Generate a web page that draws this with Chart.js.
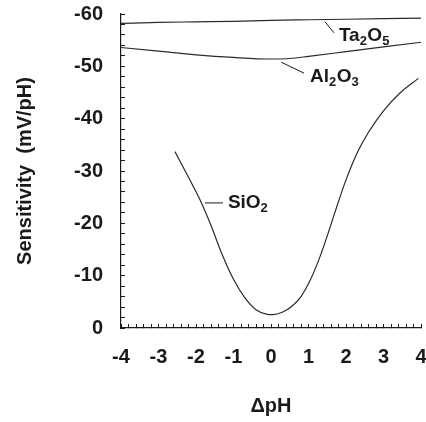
<!DOCTYPE html>
<html>
<head>
<meta charset="utf-8">
<script src="https://cdn.jsdelivr.net/npm/chart.js@4.4.1/dist/chart.umd.min.js"></script>
<style>
  html, body { margin: 0; padding: 0; background: #ffffff; }
  #wrap { width: 426px; height: 422px; position: relative; }
</style>
</head>
<body>
<div id="wrap"><canvas id="c" width="426" height="422"></canvas></div>
<script>
// ---- data ----
const taX = [-4, -3, -2, -1, 0, 1, 2, 3, 4];
const taY = [-58.2, -58.4, -58.5, -58.6, -58.8, -58.9, -59.0, -59.1, -59.2];

const alX = [-4, -3, -2, -1, 0, 0.5, 1, 2, 3, 4];
const alY = [-53.6, -52.9, -52.2, -51.7, -51.4, -51.5, -51.9, -52.8, -53.7, -54.6];

const siX = [-2.56, -2.2, -1.9, -1.6, -1.3, -1.0, -0.7, -0.4, -0.1, 0.05, 0.3, 0.55, 0.8, 1.05, 1.3, 1.5, 1.7, 2.0, 2.3, 2.6, 3.0, 3.44, 3.93];
const siY = [-33.7, -28.8, -24.6, -19.6, -14.0, -9.3, -5.8, -3.5, -2.6, -2.55, -3.0, -4.1, -6.0, -9.2, -13.5, -17.6, -22.0, -28.3, -33.5, -37.4, -41.5, -44.9, -47.7];

// labels with leader lines (data coordinates)
const labelText = ["Ta2O5", "Al2O3", "SiO2"];
const labelX = [1.81, 1.04, -1.15];
const labelY = [-54.8, -47.0, -22.9];
const leaderX1 = [1.44, 0.27, -1.76];
const leaderY1 = [-58.5, -50.8, -23.9];
const leaderX2 = [1.68, 0.88, -1.28];
const leaderY2 = [-56.4, -48.7, -23.9];

const xTickMajor = [-4, -3, -2, -1, 0, 1, 2, 3, 4];
const yTickMajor = [-60, -50, -40, -30, -20, -10, 0];

const FONT = '"Liberation Sans", Arial, Helvetica, sans-serif';
const INK = '#1a1a1a';

function pts(xs, ys) { return xs.map((x, i) => ({ x: x, y: ys[i] })); }
function isMajor(v, list) { return list.some(m => Math.abs(m - v) < 1e-6); }

const labelPlugin = {
  id: 'chemLabels',
  afterDatasetsDraw(chart) {
    const { ctx, scales: { x, y } } = chart;
    ctx.save();
    ctx.strokeStyle = INK;
    ctx.lineWidth = 1;
    ctx.fillStyle = INK;
    ctx.textBaseline = 'alphabetic';
    ctx.textAlign = 'left';
    labelText.forEach((txt, i) => {
      ctx.beginPath();
      ctx.moveTo(x.getPixelForValue(leaderX1[i]), y.getPixelForValue(leaderY1[i]));
      ctx.lineTo(x.getPixelForValue(leaderX2[i]), y.getPixelForValue(leaderY2[i]));
      ctx.stroke();
      let px = x.getPixelForValue(labelX[i]);
      const py = y.getPixelForValue(labelY[i]);
      const parts = txt.match(/[A-Za-z]+|[0-9]+/g);
      parts.forEach(p => {
        const sub = /^[0-9]+$/.test(p);
        ctx.font = sub ? 'bold 13px ' + FONT : 'bold 19px ' + FONT;
        ctx.fillText(p, px, sub ? py + 4 : py);
        px += ctx.measureText(p).width + (sub ? 0.5 : 0);
      });
    });
    ctx.restore();
  }
};

const lineStyle = {
  borderColor: '#2a2a2a',
  borderWidth: 1.2,
  pointRadius: 0,
  fill: false,
  cubicInterpolationMode: 'monotone'
};

new Chart(document.getElementById('c'), {
  type: 'line',
  data: {
    datasets: [
      Object.assign({ label: 'Ta2O5', data: pts(taX, taY) }, lineStyle),
      Object.assign({ label: 'Al2O3', data: pts(alX, alY) }, lineStyle),
      Object.assign({ label: 'SiO2', data: pts(siX, siY) }, lineStyle)
    ]
  },
  options: {
    responsive: false,
    animation: false,
    devicePixelRatio: 1,
    layout: { padding: { left: 4, right: 0, top: 14, bottom: 0 } },
    plugins: { legend: { display: false }, tooltip: { enabled: false } },
    scales: {
      x: {
        type: 'linear',
        min: -4, max: 4,
        afterFit(s) { s.height = 94; s.paddingRight = 5; s.paddingLeft = 0; },
        border: { display: true, color: INK, width: 1.2 },
        grid: { drawOnChartArea: false, drawTicks: true, tickLength: -4, color: INK, tickColor: INK },
        ticks: {
          stepSize: 0.2,
          autoSkip: false,
          maxRotation: 0, minRotation: 0,
          padding: 21,
          color: INK,
          font: { family: FONT, size: 20, weight: 'bold' },
          callback: (v) => isMajor(v, xTickMajor) ? String(Math.round(v)) : ''
        },
        title: {
          display: true, text: 'ΔpH', color: INK,
          font: { family: FONT, size: 20, weight: 'bold' },
          padding: { top: 0, bottom: 4 }
        }
      },
      y: {
        type: 'linear',
        min: -60, max: 0,
        reverse: true,
        afterFit(s) { s.width = 117; s.paddingTop = 0; s.paddingBottom = 0; },
        border: { display: true, color: INK, width: 1.2 },
        grid: { drawOnChartArea: false, drawTicks: true, tickLength: -4, color: INK, tickColor: INK },
        ticks: {
          stepSize: 2,
          autoSkip: false,
          padding: 22,
          color: INK,
          font: { family: FONT, size: 20, weight: 'bold' },
          callback: (v) => isMajor(v, yTickMajor) ? String(Math.round(v)) : ''
        },
        title: {
          display: true, text: 'Sensitivity  (mV/pH)', color: INK,
          font: { family: FONT, size: 20, weight: 'bold' },
          padding: { top: 9, bottom: 0 }
        }
      }
    }
  },
  plugins: [labelPlugin]
});
</script>
</body>
</html>
